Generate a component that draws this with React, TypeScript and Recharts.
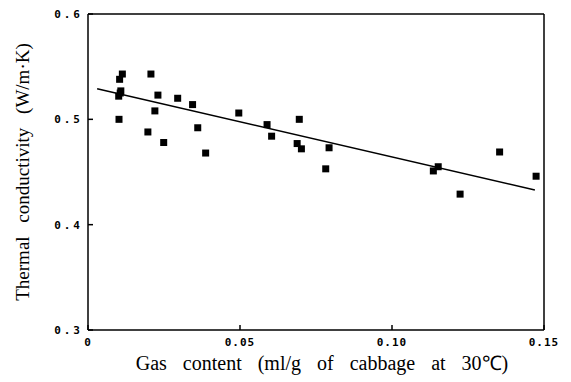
import {
  ComposedChart,
  Scatter,
  XAxis,
  YAxis,
  ReferenceLine,
  Label,
} from "recharts";

// gas content (ml/g) vs thermal conductivity (W/m·K)
const gasContent = [
  0.0104, 0.0113, 0.0108, 0.0101, 0.0106, 0.0102, 0.0207, 0.0197, 0.023, 0.022,
  0.0249, 0.0295, 0.0344, 0.0361, 0.0387, 0.0496, 0.0589, 0.0604, 0.0695, 0.0688,
  0.0702, 0.0782, 0.0793, 0.1136, 0.1152, 0.1224, 0.1354, 0.1474,
];
const conductivity = [
  0.538, 0.543, 0.527, 0.522, 0.525, 0.5, 0.543, 0.488, 0.523, 0.508,
  0.478, 0.52, 0.514, 0.492, 0.468, 0.506, 0.495, 0.484, 0.5, 0.477,
  0.472, 0.453, 0.473, 0.451, 0.455, 0.429, 0.469, 0.446,
];

// regression line end points
const fitX = [0.003, 0.147];
const fitY = [0.529, 0.433];

const xTicks = [0, 0.05, 0.1, 0.15];
const xTickLabels = ["0", "0.05", "0.10", "0.15"];
const yTicks = [0.3, 0.4, 0.5, 0.6];
const yTickLabels = ["0.3", "0.4", "0.5", "0.6"];

const points = gasContent.map((x, i) => ({ x, y: conductivity[i] }));
const fitLine = fitX.map((x, i) => ({ x, y: fitY[i] }));

const tickFont = {
  fontFamily: "DejaVu Sans Mono",
  fontWeight: "bold",
  fontSize: 11,
  fill: "#000",
};

const SquareMark = (props: any) => {
  const { cx, cy } = props;
  return <rect x={cx - 3.5} y={cy - 3.5} width={7} height={7} fill="#000" />;
};

const NoMark = () => <g />;

export default function App() {
  return (
    <div style={{ background: "#fff", width: 571, height: 382 }}>
      <style>{"body{margin:0}"}</style>
      <ComposedChart
        width={571}
        height={382}
        margin={{ top: 14, right: 27, bottom: 0, left: 0 }}
      >
        <XAxis
          type="number"
          dataKey="x"
          domain={[0, 0.15]}
          ticks={xTicks}
          tickFormatter={(v: number) => xTickLabels[xTicks.indexOf(v)]}
          height={52}
          stroke="#000"
          strokeWidth={1.5}
          tickSize={-5}
          tickMargin={13}
          tick={{ ...tickFont, letterSpacing: 1 }}
          allowDataOverflow
        >
          <Label
            value="Gas content (ml/g of cabbage at 30℃)"
            position="center"
            dx={6}
            dy={7}
            fill="#000"
            style={{
              fontFamily: "Liberation Serif",
              fontSize: 20,
              fill: "#000",
              wordSpacing: 11,
            }}
          />
        </XAxis>
        <YAxis
          type="number"
          dataKey="y"
          domain={[0.3, 0.6]}
          ticks={yTicks}
          tickFormatter={(v: number) => yTickLabels[yTicks.indexOf(v)]}
          width={88}
          stroke="#000"
          strokeWidth={1.5}
          tickSize={-5}
          tickMargin={10}
          tick={{ ...tickFont, letterSpacing: 3 }}
          allowDataOverflow
        >
          <Label
            value="Thermal conductivity (W/m·K)"
            angle={-90}
            position="center"
            dx={-22}
            fill="#000"
            style={{
              fontFamily: "Liberation Serif",
              fontSize: 19,
              fill: "#000",
              wordSpacing: 9,
            }}
          />
        </YAxis>
        <ReferenceLine y={0.6} stroke="#000" strokeWidth={1.5} />
        <ReferenceLine x={0.15} stroke="#000" strokeWidth={1.5} />
        <Scatter
          data={fitLine}
          line={{ stroke: "#000", strokeWidth: 1.5 }}
          shape={NoMark}
          isAnimationActive={false}
        />
        <Scatter
          data={points}
          shape={SquareMark}
          isAnimationActive={false}
        />
      </ComposedChart>
    </div>
  );
}
